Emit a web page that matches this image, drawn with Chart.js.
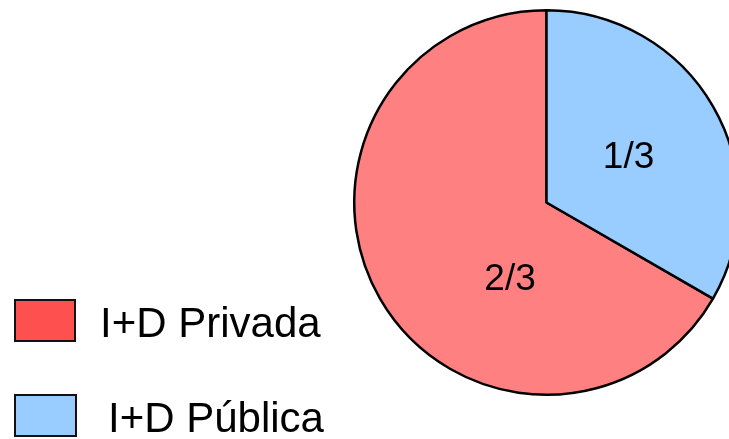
<!DOCTYPE html>
<html>
<head>
<meta charset="utf-8">
<script src="https://cdn.jsdelivr.net/npm/chart.js@4"></script>
<style>
    html, body { margin: 0; padding: 0; background: #fff; }
    #wrap { width: 729px; height: 439px; overflow: hidden; position: relative; }
    canvas { display: block; }
</style>
</head>
<body>
<div id="wrap"><canvas id="chart" width="760" height="439"></canvas></div>
<script>
// data
var categories = ["I+D Privada", "I+D Pública"];
var shares = [2, 1];
var sliceLabels = ["2/3", "1/3"];
var pieColors = ["#ff8080", "#99ccff"];
var legendColors = ["#ff5050", "#99ccff"];

// where inside each slice the text goes (fraction of angle, fraction of radius)
var labelSpots = [[0.359, 0.43], [0.5, 0.493]];

var fontFamily = "'Liberation Sans', Arial, Helvetica, sans-serif";

var sliceText = {
    id: "sliceText",
    afterDatasetsDraw: function(chart) {
        var ctx = chart.ctx;
        var arcs = chart.getDatasetMeta(0).data;
        var size = 37;
        ctx.save();
        ctx.fillStyle = "#000";
        ctx.font = size + "px " + fontFamily;
        ctx.textAlign = "center";
        ctx.textBaseline = "alphabetic";
        arcs.forEach(function(arc, i) {
            var a = arc.startAngle + labelSpots[i][0] * (arc.endAngle - arc.startAngle);
            var r = arc.outerRadius * labelSpots[i][1];
            // centre the digits (not the em box) on the spot
            ctx.fillText(sliceLabels[i], arc.x + Math.cos(a) * r, arc.y + Math.sin(a) * r + size * 0.358);
        });
        ctx.restore();
    }
};

var boxLegend = {
    id: "boxLegend",
    afterDraw: function(chart) {
        var ctx = chart.ctx;
        var rows = [
            { box: [15, 300, 60, 41], text: [100, 337] },
            { box: [15, 395, 61, 41], text: [108, 432] }
        ];
        ctx.save();
        ctx.font = "42px " + fontFamily;
        ctx.textBaseline = "alphabetic";
        rows.forEach(function(row, i) {
            ctx.fillStyle = legendColors[i];
            ctx.fillRect(row.box[0], row.box[1], row.box[2], row.box[3]);
            ctx.lineWidth = 2;
            ctx.strokeStyle = "#111";
            ctx.strokeRect(row.box[0], row.box[1], row.box[2], row.box[3]);
            ctx.fillStyle = "#000";
            ctx.fillText(categories[i], row.text[0], row.text[1]);
        });
        ctx.restore();
    }
};

var ctx = document.getElementById("chart").getContext("2d");
var chart = new Chart(ctx, {
    type: "pie",
    data: {
        labels: categories,
        datasets: [
            {
                data: shares,
                backgroundColor: pieColors,
                borderColor: "#000",
                borderWidth: 2.5
            }
        ]
    },
    options: {
        responsive: false,
        animation: false,
        events: [],
        rotation: 120,
        layout: {
            padding: { left: 353, top: 9, right: 20, bottom: 43 }
        },
        plugins: {
            legend: { display: false },
            tooltip: { enabled: false }
        }
    },
    plugins: [sliceText, boxLegend]
});
</script>
</body>
</html>
